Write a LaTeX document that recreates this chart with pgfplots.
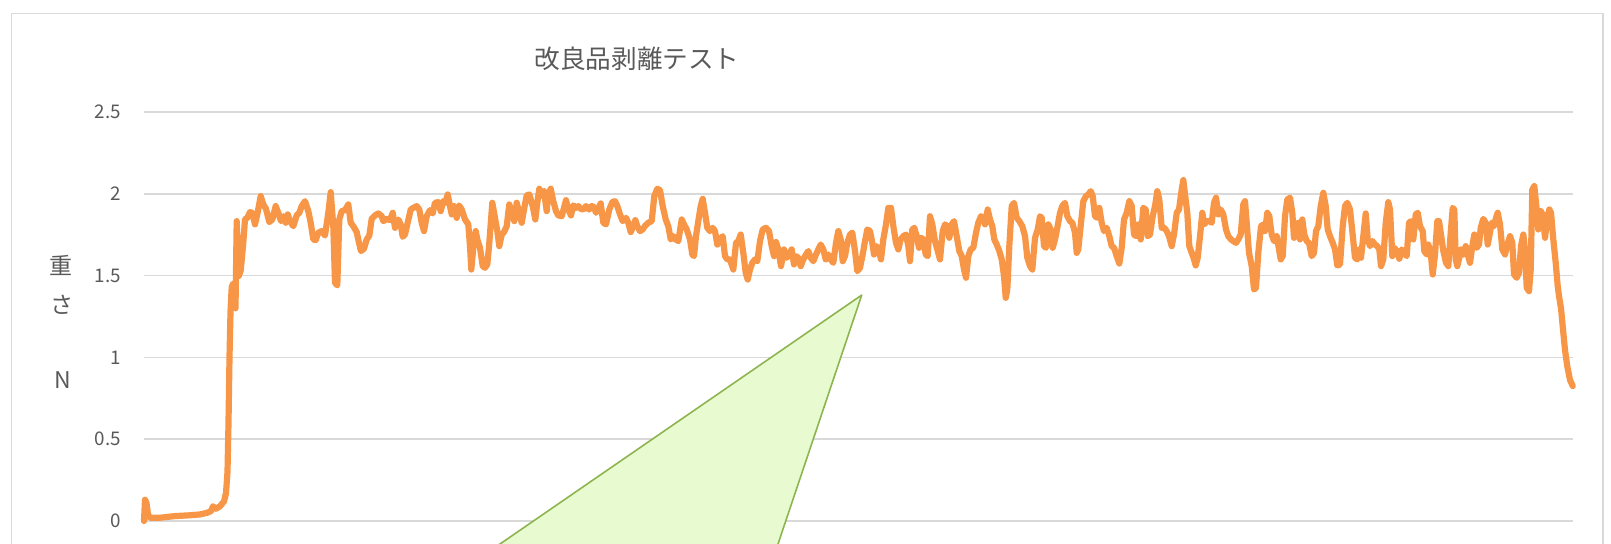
\documentclass[border=0pt]{standalone}
\usepackage{fontspec}
\setmainfont{Noto Sans CJK JP}
\usepackage{pgfplots}
\pgfplotsset{compat=1.18}
\definecolor{lineorange}{RGB}{247,150,70}
\definecolor{gridgray}{RGB}{217,217,217}
\definecolor{textgray}{RGB}{89,89,89}
\definecolor{calloutfill}{RGB}{232,251,208}
\definecolor{calloutdraw}{RGB}{142,180,80}
\begin{document}
\begin{tikzpicture}[x=0.5pt,y=-0.5pt]
% chart frame
\draw[gridgray, line width=0.8pt] (11.3,600) -- (11.3,13.4) -- (1603,13.4) -- (1603,600);
% title
\node[font=\fontsize{12.8}{14}\selectfont, text=textgray] at (637,58.6) {改良品剥離テスト};
% y axis title (vertical)
\node[font=\fontsize{11.5}{13}\selectfont, text=textgray] at (61,265) {重};
\node[font=\fontsize{11.5}{13}\selectfont, text=textgray] at (62,305) {さ};
\node[font=\fontsize{11.5}{13}\selectfont, text=textgray] at (63,380) {N};
\begin{axis}[
  at={(71.9pt,-260.5pt)}, anchor=south west,
  scale only axis, width=714.6pt, height=204.5pt,
  xmin=143.8, xmax=1573, ymin=0, ymax=2.5,
  clip=false,
  axis line style={draw=none},
  xtick=\empty,
  ytick={0,0.5,1,1.5,2,2.5},
  ymajorgrids,
  major grid style={color=gridgray, line width=0.8pt},
  major tick length=0pt,
  yticklabel style={font=\fontsize{9.4}{10}\selectfont, text=textgray, inner sep=0pt, anchor=east},
  yticklabel shift=11.2pt,
  /pgf/number format/assume math mode=true,
]
\addplot[color=lineorange, line width=3.1pt, line join=round, line cap=round] coordinates {
(144,0.0) (145,0.13) (146.5,0.11) (148,0.04) (150,0.02) (160,0.02) (175,0.03) (190,0.035) (200,0.04) (207,0.05) (211,0.06) (213,0.09) (216,0.075) (220,0.09) (224,0.12) (226,0.17) (227.5,0.3) (228.5,0.6) (229.5,1.0) (230.5,1.28)
(231.7,1.43) (233,1.45) (234.3,1.44) (235.5,1.30) (236.7,1.833) (238.7,1.497) (240.7,1.53) (243.3,1.70) (245,1.843) (247.3,1.853) (250,1.888) (252.3,1.884) (255,1.813) (257.3,1.874) (260.7,1.986) (263.3,1.935) (266,1.908) (269.3,1.827) (272.3,1.843) (275.7,1.925) (278.3,1.884) (281,1.833) (283.3,1.863) (285.7,1.823) (287.7,1.874) (290,1.833) (293.3,1.802) (296.7,1.868) (299.3,1.884) (301.7,1.925) (305,1.955) (308.3,1.894) (310.7,1.823) (313.3,1.721) (315.7,1.717) (318.3,1.762) (321.7,1.772) (325,1.745) (328.3,1.884) (330.7,2.010) (333.3,1.802) (335,1.456) (337.3,1.440) (339.3,1.843) (341.7,1.894) (345,1.900) (348.3,1.935) (350.7,1.823) (353.3,1.802) (356.7,1.766) (359,1.700) (361,1.650) (364,1.664) (366.7,1.721) (369.3,1.745) (371.7,1.847) (375,1.868) (378.3,1.880) (381.7,1.863)
(383.3,1.833) (386.7,1.847) (390,1.839) (392.7,1.884) (395,1.792) (398.3,1.843) (400.7,1.813) (402.7,1.737) (405,1.751) (407.3,1.813) (410.7,1.904) (413.3,1.914) (416.7,1.925) (419.3,1.904) (421.7,1.823) (424,1.772) (426.7,1.863) (430,1.900) (432.7,1.880) (435,1.945) (438.3,1.949) (440.7,1.894) (443.3,1.955) (445.3,1.945) (447.7,1.996) (450,1.925) (451.7,1.874) (454,1.925) (456.7,1.853) (459,1.929) (461.7,1.904) (465,1.843) (468.3,1.813) (470,1.680) (471.3,1.537) (473.3,1.670) (475.7,1.772) (477.3,1.721) (480,1.670) (482.7,1.558) (485,1.548) (487.3,1.568) (489.3,1.700) (492.3,1.945) (495,1.853) (497.3,1.772) (499.3,1.680) (501.7,1.751) (504,1.766) (506.7,1.802) (509.3,1.935) (511.7,1.884) (514.3,1.833) (516.7,1.945) (519.3,1.884) (521.7,1.823) (524,1.904) (526.7,1.990) (529.3,1.996) (532.7,1.925) (535.3,1.843) (537.3,1.945) (539.3,2.031) (541.7,1.990) (544,2.016) (546.7,1.894) (548.3,1.996) (550.7,2.031) (553.3,1.955) (556,1.894) (558.3,1.868) (561.7,1.863) (564,1.914) (566,1.961) (568.3,1.904) (571,1.868) (573.3,1.929) (576,1.914) (578.3,1.925) (580.7,1.908) (583.3,1.904) (586,1.925) (589,1.904) (591.7,1.925) (594,1.918) (596,1.884) (598.3,1.914) (600.7,1.941) (603.3,1.823) (606,1.813) (609.3,1.904) (612.3,1.949) (615,1.955) (617.3,1.925) (620,1.874) (622.7,1.833)
(626,1.853) (628.3,1.823) (630.7,1.766) (633.3,1.802) (635.3,1.839) (637.3,1.802) (640,1.772) (642.7,1.782) (645.3,1.806) (648.3,1.823) (651.7,1.833) (654.3,1.986) (657.3,2.031) (660,2.022) (662.7,1.925) (665.7,1.843) (668.3,1.802) (670.7,1.721) (673.3,1.741) (675.7,1.721) (678.3,1.711) (681.7,1.843) (684,1.813) (686.7,1.782) (690,1.721) (692.3,1.629) (694,1.619) (696,1.741) (698.3,1.833) (700.7,1.925) (702.7,1.969) (705,1.884) (707.3,1.792) (710,1.772) (712.7,1.792) (715,1.772) (717.3,1.690) (720,1.721) (722.7,1.741) (725,1.619) (727.3,1.599) (730,1.599) (733.3,1.537) (736,1.700) (738.3,1.711) (740.7,1.751) (743.3,1.639) (745.7,1.517) (747.7,1.476) (750,1.537) (752.3,1.578) (755,1.599) (757.3,1.588) (760,1.711) (762.7,1.782) (766,1.792) (769,1.772) (771.7,1.680) (774,1.619) (776,1.705) (778.3,1.660) (781,1.558) (784,1.660) (786.7,1.609) (789,1.629) (791.7,1.660) (794,1.568) (796,1.619) (798.3,1.609) (800.7,1.558) (803.3,1.599) (806,1.629) (808.3,1.650) (810.7,1.609) (813.3,1.588) (816,1.629) (818.3,1.660) (820.7,1.690) (823.3,1.660) (825.7,1.599) (828.3,1.629) (830.7,1.599) (833.3,1.578) (836,1.700) (838.3,1.772) (840.7,1.721) (842.7,1.588) (845,1.619) (847.3,1.700) (850,1.751) (852.3,1.762) (855,1.650) (857.3,1.527) (860,1.548)
(862.7,1.629) (865,1.711) (867.3,1.782) (870,1.772) (872.3,1.700) (874,1.629) (876.7,1.680) (879,1.650) (881,1.599) (883.3,1.721) (886,1.813) (888.3,1.914) (891,1.914) (893.3,1.802) (896,1.700) (898.3,1.660) (900.7,1.721) (903.3,1.741) (906,1.751) (908.3,1.680) (910,1.588) (912.3,1.782) (914.3,1.792) (916.7,1.741) (919,1.670) (921,1.731) (923.3,1.721) (925.7,1.629) (927.7,1.619) (930,1.863) (932.3,1.813) (935,1.711) (937.3,1.660) (940,1.599) (942.7,1.772) (945,1.813) (947.3,1.802) (949.3,1.731) (951.7,1.813) (954,1.833) (956.7,1.741) (959.3,1.650) (961.7,1.619) (964,1.537) (966,1.487) (968.3,1.619) (970.7,1.660) (973.3,1.670) (976,1.762) (978.3,1.823) (981,1.863) (983.3,1.853) (985,1.813) (987.7,1.904) (990,1.843) (992.3,1.802) (994.3,1.721) (996.7,1.690) (999.3,1.650) (1001.7,1.599) (1004,1.497) (1005.7,1.364) (1007.3,1.415) (1009.3,1.680) (1011.7,1.925) (1014,1.945) (1016.7,1.853) (1019.3,1.833) (1022.3,1.802) (1025,1.741) (1027.3,1.609) (1030,1.558) (1032.3,1.537) (1035,1.731) (1037.7,1.782) (1040,1.863) (1041.7,1.853) (1044,1.680) (1046,1.670) (1048.3,1.813) (1050.7,1.782) (1052.7,1.670) (1055,1.721) (1057.3,1.792) (1060,1.884) (1062.3,1.925) (1065,1.945) (1067.3,1.863) (1070,1.833) (1072.3,1.823) (1075,1.762) (1076.7,1.639) (1078.3,1.660) (1081,1.823) (1083.3,1.955) (1086,1.986) (1088.3,1.996) (1090.7,2.016) (1092.7,1.986) (1095,1.863) (1097.3,1.853) (1099.3,1.914)
(1101.7,1.823) (1104,1.772) (1106.7,1.792) (1109.3,1.741) (1111.7,1.680) (1114,1.670) (1116.7,1.619) (1119.3,1.574) (1121.7,1.670) (1124,1.843) (1126.7,1.884) (1129.3,1.955) (1131.7,1.925) (1134,1.751) (1136,1.741) (1138.3,1.813) (1140.7,1.721) (1143.3,1.914) (1145.7,1.904) (1147.7,1.741) (1150,1.751) (1152.7,1.863) (1155,1.925) (1157.3,2.016) (1159.3,1.965) (1161.7,1.792) (1164.3,1.792) (1166.7,1.772) (1169,1.741) (1171.7,1.680) (1174,1.751) (1176.7,1.884) (1179,1.904) (1181.7,2.026) (1183.3,2.084) (1185,1.996) (1187.3,1.884) (1189.3,1.680) (1191.7,1.639) (1194,1.599) (1195.7,1.562) (1197.7,1.609) (1200,1.741) (1202.3,1.884) (1204.3,1.813) (1206.7,1.833) (1209.3,1.833) (1211.7,1.823) (1214,1.945) (1216,1.976) (1218.3,1.874) (1220.7,1.904) (1223.3,1.874) (1226,1.782) (1228.3,1.741) (1231,1.721) (1233.3,1.711) (1236,1.700) (1238.3,1.721) (1240.7,1.751) (1243.3,1.935) (1245,1.955) (1246.7,1.823) (1249,1.639) (1251.7,1.558) (1254,1.415) (1256,1.425) (1258.3,1.639) (1261,1.802) (1263.3,1.813) (1265,1.772) (1267.3,1.884) (1269.3,1.863) (1271.7,1.751) (1274,1.711) (1276.7,1.741) (1279,1.660) (1280.7,1.599) (1282.7,1.619) (1285,1.863) (1287.3,1.965) (1290,1.976) (1292.3,1.884) (1294,1.731) (1296,1.772) (1298.3,1.823) (1300,1.721) (1302.3,1.843) (1304.3,1.751) (1306.7,1.711) (1309,1.700) (1311.7,1.619) (1314,1.639) (1316,1.772) (1318.3,1.802) (1320.7,1.925) (1323.3,2.006) (1325.7,1.925) (1327.7,1.782) (1330,1.741) (1332.7,1.700) (1335,1.660) (1337.3,1.562) (1340,1.568)
(1342.7,1.802) (1345,1.925) (1347.3,1.945) (1350,1.904) (1352.3,1.772) (1355,1.609) (1357.3,1.599) (1359.3,1.660) (1361,1.609) (1363.3,1.741) (1365.7,1.880) (1367.7,1.721) (1370,1.680) (1372.3,1.711) (1375,1.690) (1377.3,1.680) (1379.3,1.660) (1381,1.558) (1383.3,1.599) (1385.7,1.823) (1388.3,1.949) (1390,1.904) (1392.3,1.619) (1394.3,1.670) (1396.7,1.650) (1399.3,1.603) (1401.7,1.660) (1404,1.639) (1406.7,1.619) (1409,1.823) (1411,1.833) (1413.3,1.721) (1415.7,1.874) (1417.7,1.884) (1420,1.802) (1422.7,1.772) (1424.3,1.650) (1426.7,1.629) (1428.3,1.690) (1430.7,1.639) (1432.7,1.507) (1435,1.629) (1437.3,1.833) (1439,1.833) (1441,1.751) (1443.3,1.650) (1446,1.578) (1448.3,1.558) (1450.7,1.762) (1452.7,1.914) (1454.3,1.904) (1455.7,1.599) (1457.3,1.558) (1459.3,1.609) (1461,1.660) (1463.3,1.629) (1465.7,1.680) (1467.7,1.629) (1470,1.578) (1472.3,1.680) (1474.3,1.751) (1476.7,1.670) (1479,1.690) (1480.7,1.792) (1483.3,1.847) (1485.7,1.823) (1487.7,1.690) (1489.3,1.741) (1491.7,1.823) (1494,1.802) (1496,1.853) (1497.7,1.884) (1500,1.813) (1502.3,1.660) (1505,1.629) (1507.3,1.690) (1510,1.741) (1512.3,1.700) (1514,1.507) (1516.7,1.487) (1519,1.517) (1521,1.680) (1523.3,1.751) (1525,1.660) (1526.7,1.425) (1529,1.405) (1530.7,1.537) (1532.3,2.026) (1534.3,2.047) (1536.7,1.904) (1538.3,1.782) (1540.7,1.894) (1542.7,1.874) (1545,1.731) (1547.3,1.853) (1549.3,1.904) (1551,1.884) (1553.3,1.721) (1555.7,1.578) (1557.7,1.436) (1559,1.374) (1561,1.30) (1563,1.17) (1565,1.045) (1567.3,0.944) (1570,0.862) (1572.7,0.825)
};
\addplot[fill=calloutfill, draw=calloutdraw, line width=0.8pt, line join=round] coordinates {(861.7,1.381) (447.7,-0.3606) (765.9,-0.3606)} -- cycle;
\end{axis}
\pgfresetboundingbox
\path[use as bounding box] (0,0) rectangle (1611,544);
\end{tikzpicture}
\end{document}
